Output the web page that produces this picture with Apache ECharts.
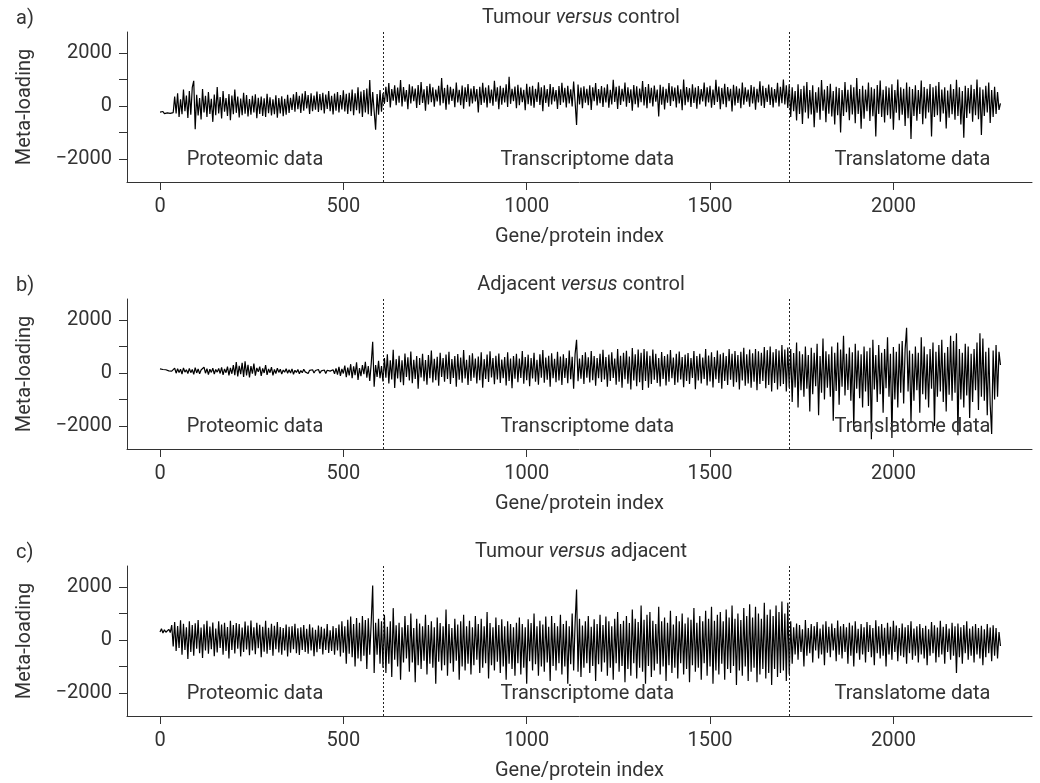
<!DOCTYPE html>
<html>
<head>
<meta charset="utf-8">
<script src="https://cdn.jsdelivr.net/npm/echarts@6/dist/echarts.min.js"></script>
<style>
  html, body { margin: 0; padding: 0; background: #fff; }
  #main { width: 1040px; height: 783px; }
</style>
</head>
<body>
<div id="main"></div>
<script>
// one meta-loading value every indexStep genes/proteins
var indexStep = 4

var tumourVsControl = [
  -230,-270,-210,-290,-240,-260,-200,-280,-220,-250,
  350,-280,480,-420,250,-310,620,-200,390,-450,
  560,-330,700,950,-880,420,-360,300,-510,640,
  -250,380,-420,520,-300,270,-600,430,-350,710,
  -280,340,-470,560,-220,300,-380,450,-540,390,
  -310,620,-260,350,-430,280,-350,500,-290,410,
  -400,260,-330,380,-250,440,-460,310,-300,350,
  -380,290,-420,460,-270,330,-360,250,-310,400,
  -440,300,-280,360,-390,270,-330,420,-260,310,
  -150,440,-220,520,-120,380,-260,470,-180,560,
  -90,410,-300,480,-200,390,-140,540,-230,450,
  -160,500,-280,430,-110,560,-200,380,-320,470,
  -180,520,-250,410,-130,590,-210,460,-300,500,
  -200,620,-350,480,-160,700,-280,540,-420,600,
  -250,660,-310,980,-380,520,-200,-900,450,-330,
  600,-220,480,
  80,720,150,860,-60,640,200,780,30,690,
  120,980,-20,710,160,600,-120,820,90,740,
  180,660,-80,790,40,900,110,630,-180,750,
  60,840,140,700,-30,620,170,760,20,1050,
  100,680,-140,800,60,720,190,650,-50,880,
  130,610,30,770,-100,700,150,830,-20,660,
  90,750,170,640,-250,720,40,870,120,690,
  -60,780,100,620,10,950,160,700,-120,760,
  50,680,130,820,-40,1100,80,650,180,730,
  -90,800,30,690,140,610,-160,840,70,720,
  10,760,-70,650,150,890,40,700,-200,780,
  110,640,-30,830,60,710,170,600,-110,750,
  40,870,130,680,-60,760,90,630,-20,920,
  150,-720,810,60,690,-90,740,120,650,30,
  780,-150,700,180,860,20,640,100,750,-40,
  690,130,820,-70,610,60,990,150,720,-110,
  760,40,650,170,880,-30,700,110,630,-180,
  790,70,740,-60,660,140,940,20,710,-90,
  830,100,680,-20,770,160,620,-400,800,50,
  720,-130,650,120,860,0,740,180,690,-60,
  780,90,630,-160,1000,30,710,140,670,-40,
  820,110,690,-100,750,60,640,170,880,-20,
  700,130,760,-70,620,40,990,150,730,-120,
  680,70,840,-50,710,180,650,-210,800,20,
  740,110,660,-90,880,50,700,160,620,-30,
  790,90,720,-140,650,130,930,10,760,-80,
  680,150,810,40,700,-60,640,120,870,-20,
  720,100,1000,60,780,-80,820,
  -420,700,-200,560,-550,820,-300,640,-680,760,
  -250,900,-470,600,-320,780,-800,520,-260,700,
  -520,980,-180,620,-610,750,-290,840,-400,560,
  -700,720,-350,680,-1000,600,-380,900,-240,610,
  -540,800,-320,700,-650,1050,-300,640,-860,760,
  -480,620,-200,880,-570,700,-390,650,-1150,790,
  -300,960,-420,610,-620,740,-350,690,-480,820,
  -900,600,-260,1000,-540,700,-330,650,-760,880,
  -460,720,-1250,640,-380,780,-560,600,-300,960,
  -690,710,-470,650,-250,830,-1150,700,-420,760,
  -350,900,-600,620,-280,700,-850,580,-440,820,
  -310,640,-520,990,-380,700,-700,560,-1200,760,
  -450,680,-280,800,-600,640,-350,1000,-500,700,
  -1100,620,-380,760,-250,880,-640,600,-420,720,
  -300,520,-150,100
]

var adjacentVsControl = [
  150,90,130,60,120,160,80,140,70,110,
  180,-10,160,20,140,-40,190,30,120,-20,
  170,10,130,-50,200,0,150,-30,110,40,
  220,-10,160,-60,140,20,180,-40,130,30,
  170,-20,210,-70,150,10,240,-90,190,-30,
  300,-80,410,-130,270,-50,380,-150,440,-90,
  310,-170,260,-30,350,-100,190,40,240,-110,
  170,0,300,-70,150,10,220,-90,130,-20,
  180,20,140,-40,110,30,160,-10,120,0,
  150,-50,100,20,130,-30,90,10,140,40,
  110,-20,100,30,120,0,90,20,130,-10,
  80,30,110,-20,100,40,70,10,120,-30,
  170,-60,230,-110,150,-20,280,-160,200,-90,
  330,-200,250,-80,400,-260,180,-120,300,-50,
  420,-180,260,-300,350,1180,-520,300,-150,460,
  -200,260,-320,
  560,-180,700,-400,480,-250,870,-570,520,-210,
  650,-350,480,-460,730,-150,590,-280,810,-390,
  500,-230,640,-600,560,-170,720,-310,490,-440,
  680,-200,850,-360,530,-270,610,-480,760,-150,
  560,-330,690,-230,800,-420,520,-190,640,-520,
  710,-260,580,-370,860,-210,500,-450,670,-300,
  740,-180,540,-400,620,-270,780,-560,520,-230,
  690,-340,820,-170,560,-430,650,-250,730,-380,
  510,-200,600,-470,780,-300,540,-580,640,-220,
  720,-350,540,-190,830,-410,600,-270,690,-500,
  560,-210,760,-330,500,-440,700,-180,860,-370,
  580,-260,650,-520,740,-200,530,-350,800,-280,
  620,-450,700,-190,560,-390,850,-240,610,-600,
  720,1250,-310,540,-220,680,-420,780,-180,590,
  -360,830,-270,640,-480,560,-200,720,-340,870,
  -250,600,-520,690,-300,780,-190,540,-440,900,
  -330,650,-560,760,-240,840,-410,620,-620,940,
  -280,700,-500,880,-350,760,-640,900,-300,820,
  -560,650,-420,880,-260,720,-380,560,-510,790,
  -230,640,-470,700,-330,860,-200,580,-450,720,
  -360,810,-250,600,-540,690,-300,750,-420,560,
  -190,830,-610,640,-280,720,-400,580,-230,900,
  -470,660,-320,780,-550,600,-240,850,-380,700,
  -600,760,-300,640,-450,900,-260,720,-520,830,
  -350,680,-620,800,-280,950,-480,700,-400,880,
  -560,740,-330,900,-650,820,-420,760,-300,980,
  -580,860,-450,1000,-700,780,-380,900,-620,850,
  -500,1050,-420,880,-700,960,-560,
  900,-1100,750,-550,1150,-1300,820,-650,700,-900,
  1000,-600,680,-1450,950,-800,760,-500,1100,-1600,
  640,-750,1300,-1000,820,-560,700,-900,1000,-1800,
  760,-680,1150,-1200,880,-520,1400,-850,720,-640,
  960,-1050,780,-2100,1100,-600,850,-950,700,-1300,
  1000,-700,820,-1250,950,-2500,1250,-620,680,-1100,
  1050,-800,760,-1500,900,-580,1350,-900,720,-2450,
  980,-1000,800,-1300,1100,-750,1200,-1150,900,1700,
  -700,850,-1900,720,-1050,1000,-650,760,-1500,1350,
  -800,1000,-1000,700,-1300,900,-600,1150,-2000,800,
  -900,1050,-700,1250,-1100,760,-1450,980,-820,1400,
  -1050,1200,-750,1500,-2350,900,-1000,760,-1300,1100,
  -850,1000,-1700,720,-1100,900,-650,1150,-1400,1500,
  -900,1300,-1050,800,-1600,950,-1200,-2300,850,-1000,
  1050,-900,800,300
]

var tumourVsAdjacent = [
  300,420,260,380,290,350,400,280,560,-250,
  680,-420,520,-300,740,-560,610,-380,480,-720,
  700,-450,560,-600,630,-330,750,-500,470,-680,
  590,-400,720,-520,510,-350,660,-610,430,-470,
  700,-300,580,-560,650,-420,490,-700,720,-380,
  560,-510,640,-330,600,-620,470,-450,690,-360,
  540,-580,730,-400,480,-540,650,-310,570,-650,
  500,-440,720,-520,460,-380,610,-600,530,-350,
  680,-470,490,-560,450,-400,580,-620,500,-480,
  520,-350,610,-500,440,-570,480,-380,560,-450,
  420,-520,590,-400,470,-610,380,-460,540,-340,
  500,-550,430,-380,600,-490,360,-420,520,-560,
  450,-400,580,-620,700,-480,520,-900,760,-520,
  880,-650,600,-1000,830,-700,650,-800,900,-600,
  750,-1100,820,-560,680,2050,-1250,650,-560,800,
  -900,700,-1050,
  950,-1250,500,-900,700,-1400,1200,-750,550,-1000,
  650,-1500,480,-850,900,-700,560,-1200,1000,-850,
  450,-1600,800,-950,620,-1100,520,-780,950,-1300,
  560,-900,700,-1050,480,-1650,850,-820,640,-1150,
  520,-950,1150,-1350,600,-880,450,-1200,800,-780,
  580,-1500,700,-1000,950,-1150,520,-900,720,-1300,
  480,-950,900,-750,600,-1250,800,-1050,520,-880,
  1050,-1450,640,-950,480,-1150,850,-820,560,-1250,
  780,-1000,520,-1500,700,-900,600,-1100,480,-1350,
  650,-880,850,-1300,600,-1050,480,-1650,780,-800,
  640,-1150,1000,-920,520,-1350,720,-1000,580,-1200,
  880,-850,500,-1550,900,-980,640,-1150,520,-880,
  950,-1300,600,-1000,720,-1650,520,-920,1000,-1150,
  640,1900,-1200,800,-1400,540,-1050,700,-880,900,
  -1250,500,-980,780,-1550,600,-920,950,-1200,560,
  -850,880,-1350,700,-1050,520,-1500,800,-880,1050,
  -1200,600,-980,720,-1600,900,-1100,640,-1350,1150,
  -880,800,-1450,680,-1050,1300,-1200,760,-1650,950,
  -980,1050,-1400,720,-1150,600,-900,1250,-1300,700,
  -1000,850,-1550,650,-950,1100,-1250,580,-1050,900,
  -1450,700,-880,1000,-1300,620,-1100,850,-1600,760,
  -950,1200,-1200,650,-1050,900,-1500,700,-880,1100,
  -1350,800,-1000,1250,-1650,720,-1150,950,-1300,1050,
  -900,700,-1500,1150,-1100,850,-1250,1300,-980,800,
  -1700,1000,-1150,750,-1350,1200,-1000,900,-1550,1350,
  -1200,850,-1050,1250,-1600,1000,-1300,800,-1100,1400,
  -1450,950,-1250,1150,-1700,900,-1100,1300,-1400,1050,
  -1250,1450,-1150,1000,-1550,1400,-1300,
  700,-900,480,-550,620,-750,560,-450,400,-1000,
  750,-600,450,-500,600,-850,520,-400,680,-700,
  430,-550,580,-950,700,-480,500,-650,620,-400,
  450,-800,730,-560,520,-700,600,-450,480,-900,
  650,-600,540,-1000,700,-500,420,-750,600,-550,
  480,-850,680,-450,560,-650,450,-950,740,-500,
  520,-700,600,-600,460,-1000,650,-550,500,-750,
  720,-450,540,-800,450,-600,620,-650,480,-900,
  560,-500,700,-750,430,-600,520,-850,600,-550,
  450,-700,530,-950,400,-600,680,-500,550,-850,
  470,-650,720,-550,500,-900,600,-450,430,-750,
  650,-600,520,-1250,620,-650,480,-900,560,-500,
  700,-750,430,-600,520,-850,600,-550,450,-700,
  530,-950,400,-650,600,-500,470,-800,550,-600,
  450,-700,300,-230
]

var xTicks = [0, 500, 1000, 1500, 2000]
var yTicks = [-2000, -1000, 0, 1000, 2000]
var yLabels = [-2000, 0, 2000]
var boundaries = [610, 1717]
var regionNames = ['Proteomic data', 'Transcriptome data', 'Translatome data']
var regionX = [259, 1165, 2052]
var regionY = -2040
var panelLetters = ['a)', 'b)', 'c)']
var panelTitles = [
  ['Tumour ', 'versus', ' control'],
  ['Adjacent ', 'versus', ' control'],
  ['Tumour ', 'versus', ' adjacent']
]
var panelData = [tumourVsControl, adjacentVsControl, tumourVsAdjacent]

var FONT = 'Roboto'
var FS = 20
var TXT = '#333'
var panelGap = 267

var myChart = echarts.init(document.getElementById('main'))

var grids = [], xAxes = [], yAxes = [], series = [], graphics = []

panelData.forEach(function (vals, k) {
  grids.push({ left: 127, width: 905, top: 32 + k * panelGap, height: 150 })

  xAxes.push({
    gridIndex: k,
    type: 'value',
    min: -90,
    max: 2378,
    name: 'Gene/protein index',
    nameLocation: 'middle',
    nameGap: 45,
    nameTextStyle: { fontFamily: FONT, fontSize: FS, color: TXT },
    axisLine: { onZero: false, lineStyle: { color: TXT, width: 1 } },
    axisTick: { customValues: xTicks, length: 8, lineStyle: { color: TXT } },
    axisLabel: {
      customValues: xTicks, margin: 15, fontFamily: FONT, fontSize: FS, color: TXT,
      formatter: function (v) { return String(v) }
    },
    splitLine: { show: false }
  })

  yAxes.push({
    gridIndex: k,
    type: 'value',
    min: -2870,
    max: 2790,
    name: 'Meta-loading',
    nameLocation: 'middle',
    nameGap: 92,
    nameTextStyle: { fontFamily: FONT, fontSize: FS, color: TXT },
    axisLine: { show: true, onZero: false, lineStyle: { color: TXT, width: 1 } },
    axisTick: { show: true, customValues: yTicks, length: 8, lineStyle: { color: TXT } },
    axisLabel: {
      customValues: yLabels,
      margin: 15,
      fontFamily: FONT,
      fontSize: FS,
      color: TXT,
      formatter: function (v) { return String(v).replace('-', '\u2212') }
    },
    splitLine: { show: false }
  })

  series.push({
    type: 'line',
    xAxisIndex: k,
    yAxisIndex: k,
    data: vals.map(function (v, i) { return [i * indexStep, v] }),
    showSymbol: false,
    symbol: 'none',
    silent: true,
    lineStyle: { color: '#000', width: 1.2 },
    markLine: {
      silent: true,
      symbol: ['none', 'none'],
      label: { show: false },
      lineStyle: { type: [2, 2], color: '#222', width: 1 },
      data: boundaries.map(function (b) { return { xAxis: b } })
    }
  })

  // region labels placed in data space
  series.push({
    type: 'scatter',
    xAxisIndex: k,
    yAxisIndex: k,
    symbolSize: 1,
    itemStyle: { color: 'rgba(0,0,0,0)', opacity: 1 },
    silent: true,
    z: 5,
    data: regionX.map(function (x) { return [x, regionY] }),
    label: {
      show: true,
      position: 'inside',
      fontFamily: FONT,
      fontSize: FS,
      color: TXT,
      opacity: 1,
      formatter: function (p) { return regionNames[p.dataIndex] }
    }
  })

  graphics.push({
    type: 'text',
    x: 16,
    y: 19 + k * panelGap,
    style: { text: panelLetters[k], font: FS + 'px Roboto', fill: TXT, verticalAlign: 'middle' }
  })
  var t = panelTitles[k]
  graphics.push({
    type: 'text',
    x: 581,
    y: 18 + k * panelGap,
    style: {
      text: '{n|' + t[0] + '}{i|' + t[1] + '}{n|' + t[2] + '}',
      align: 'center',
      verticalAlign: 'middle',
      fill: TXT,
      font: FS + 'px Roboto',
      rich: {
        n: { fontFamily: FONT, fontSize: FS, fill: TXT },
        i: { fontFamily: FONT, fontSize: FS, fontStyle: 'italic', fill: TXT }
      }
    }
  })
})

var option = {
  animation: false,
  backgroundColor: '#fff',
  grid: grids,
  xAxis: xAxes,
  yAxis: yAxes,
  series: series,
  graphic: graphics
}
myChart.setOption(option)
</script>
</body>
</html>
